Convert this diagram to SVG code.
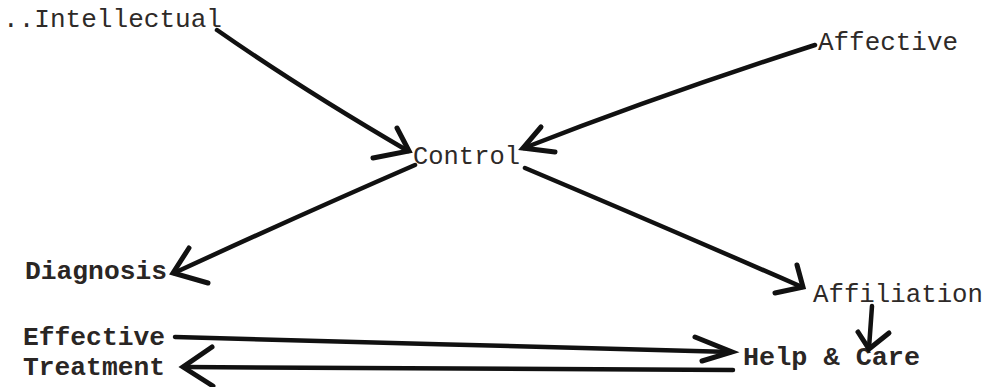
<svg xmlns="http://www.w3.org/2000/svg" width="989" height="387" viewBox="0 0 989 387">
<style>
  .t { font-family: "Liberation Mono", "Courier New", monospace; font-size: 26px; fill: #2e2a28; }
  .b { font-weight: bold; fill: #2a2624; }
  .ln { fill: none; stroke: #111; stroke-width: 4.5; stroke-linecap: round; stroke-linejoin: round; }
  .hd { fill: none; stroke: #111; stroke-width: 5; stroke-linecap: round; stroke-linejoin: miter; }
</style>
<rect width="989" height="387" fill="#ffffff"/>
<g id="intellectual"><text class="t" x="3" y="27" textLength="219" lengthAdjust="spacingAndGlyphs">..Intellectual</text></g>
<g id="affective"><text class="t" x="818" y="50" textLength="140" lengthAdjust="spacingAndGlyphs">Affective</text></g>
<g id="control"><text class="t" x="413" y="164" textLength="107" lengthAdjust="spacingAndGlyphs">Control</text></g>
<g id="diagnosis"><text class="t b" x="25" y="279" textLength="142" lengthAdjust="spacingAndGlyphs">Diagnosis</text></g>
<g id="affiliation"><text class="t" x="813" y="302" textLength="170" lengthAdjust="spacingAndGlyphs">Affiliation</text></g>
<g id="effective-treatment">
  <text class="t b" x="23" y="345" textLength="142" lengthAdjust="spacingAndGlyphs">Effective</text>
  <text class="t b" x="23" y="375" textLength="142" lengthAdjust="spacingAndGlyphs">Treatment</text>
</g>
<g id="help-care"><text class="t b" x="743" y="365" textLength="177" lengthAdjust="spacingAndGlyphs">Help &amp; Care</text></g>
<g id="connectors">
  <path class="ln" d="M217,30 Q300,88 408,151"/>
  <path class="hd" d="M397,128 L409,151 L373,158"/>
  <path class="ln" d="M815,45 Q660,95 524,148"/>
  <path class="hd" d="M541,127 L523,148 L555,152"/>
  <path class="ln" d="M415,165 Q300,215 174,273"/>
  <path class="hd" d="M189,248 L173,273 L208,283"/>
  <path class="ln" d="M525,168 Q660,225 802,287"/>
  <path class="hd" d="M797,265 L803,287 L775,293"/>
  <path class="ln" d="M872,306 L869,348"/>
  <path class="hd" d="M858,332 L869,349 L889,333"/>
  <path class="ln" d="M175,337 C350,343 560,346 731,352"/>
  <path class="hd" d="M695,337 L732,352 L702,361"/>
  <path class="ln" d="M733,370 C520,369 320,369 184,367"/>
  <path class="hd" d="M212,347 L183,367 L213,386"/>
</g>
</svg>
